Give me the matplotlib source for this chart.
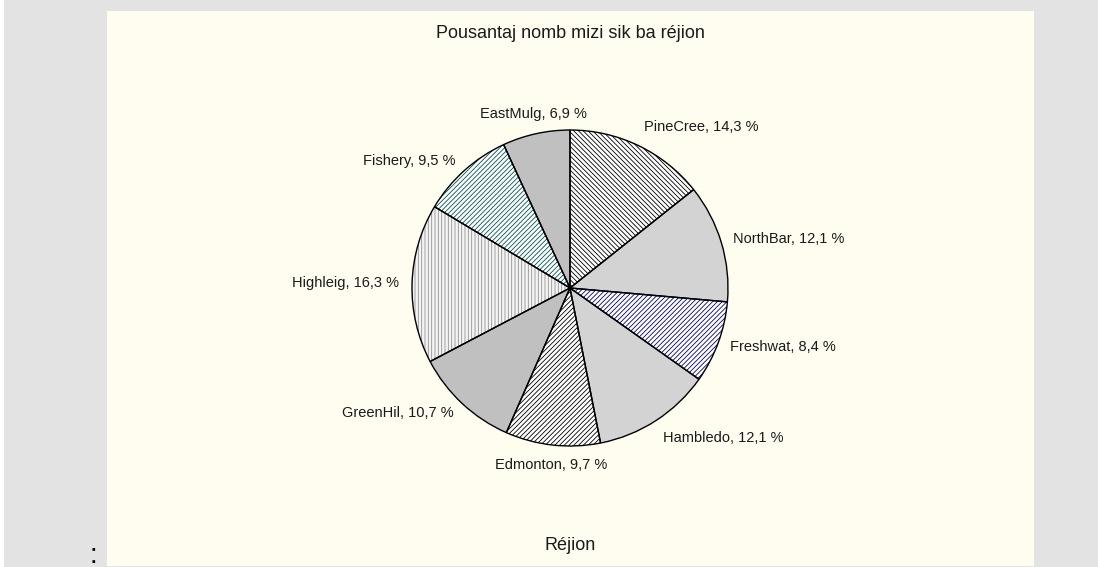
import numpy as np
import matplotlib
matplotlib.use("Agg")
import matplotlib.pyplot as plt
from matplotlib.patches import Rectangle

plt.rcParams['font.family'] = ['Liberation Sans', 'DejaVu Sans']
plt.rcParams['hatch.linewidth'] = 0.6

# données par région (sens horaire depuis midi)
regions = ['PineCree', 'NorthBar', 'Freshwat', 'Hambledo', 'Edmonton',
           'GreenHil', 'Highleig', 'Fishery', 'EastMulg']
pourcent = [14.3, 12.1, 8.4, 12.1, 9.7, 10.7, 16.3, 9.5, 6.9]
remplissage = ['white', '#d3d3d3', 'white', '#d3d3d3', 'white',
               '#c0c0c0', '#f4f4f4', 'white', '#c0c0c0']
hachures = ['\\' * 7, '', '/' * 7, '', '/' * 7, '', '|' * 5, '/' * 7, '']
couleur_hach = ['black', 'black', '#000080', 'black', 'black',
                'black', '#909090', '#005555', 'black']

W, H = 1098, 567
fig = plt.figure(figsize=(W / 100, H / 100), dpi=100, facecolor='#e3e3e3')
fig.add_artist(Rectangle((0, 0), 4 / W, 1, transform=fig.transFigure,
                         facecolor='white', edgecolor='none', zorder=-2))
fig.add_artist(Rectangle((107 / W, 1 / H), (1034 - 107) / W, (566 - 11) / H,
                         transform=fig.transFigure, facecolor='#fffdf0',
                         edgecolor='none', zorder=-2))

cx, cy, r = 570, 288, 158
ax = fig.add_axes([(cx - r) / W, (H - cy - r) / H, 2 * r / W, 2 * r / H])
ax.set_zorder(2)

# hachures colorées d'abord, contour noir par-dessus
wedges, _ = ax.pie(pourcent, colors=remplissage, startangle=90, counterclock=False,
                   wedgeprops=dict(linewidth=0))
for w, h, c in zip(wedges, hachures, couleur_hach):
    w.set_hatch(h)
    w.set_edgecolor(c)
ax.pie(pourcent, colors=['none'] * len(pourcent), startangle=90, counterclock=False,
       wedgeprops=dict(linewidth=1, edgecolor='black'))

for w, nom, p in zip(wedges, regions, pourcent):
    ang = np.deg2rad((w.theta1 + w.theta2) / 2)
    x, y = 1.08 * np.cos(ang), 1.08 * np.sin(ang)
    ha = 'center' if abs(np.cos(ang)) < 0.3 else ('left' if x > 0 else 'right')
    va = 'center' if abs(np.sin(ang)) < 0.8 else ('bottom' if y > 0 else 'top')
    ax.text(x, y, f"{nom}, {str(p).replace('.', ',')} %", ha=ha, va=va,
            fontsize=10.5, color='#1a1a1a', clip_on=False)

ax.set_xlim(-1, 1)
ax.set_ylim(-1, 1)
ax.set_aspect('equal')
ax.axis('off')

fig.text(cx / W, 1 - 33 / H, 'Pousantaj nomb mizi sik ba réjion',
         ha='center', va='center', fontsize=13, color='#1a1a1a')
fig.text(cx / W, 1 - 545 / H, 'Réjion', ha='center', va='center', fontsize=13,
         color='#1a1a1a')
fig.text(93 / W, 1 - 556 / H, ':', ha='center', va='center', fontsize=20)

fig.savefig('out.png', dpi=100, facecolor=fig.get_facecolor())
